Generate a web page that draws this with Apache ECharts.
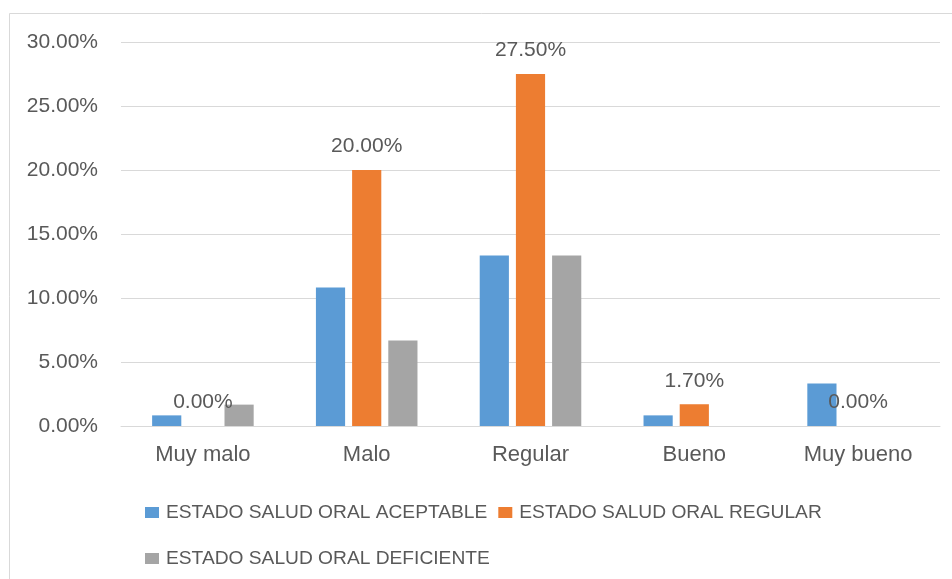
<!DOCTYPE html>
<html>
<head>
<meta charset="utf-8">
<script src="https://cdn.jsdelivr.net/npm/echarts@6/dist/echarts.min.js"></script>
<style>
  html, body { margin: 0; padding: 0; background: #ffffff; }
  #chart { width: 952px; height: 579px; }
</style>
</head>
<body>
<div id="chart"></div>
<script>
// Categories of oral-health self-rating
const categories = ['Muy malo', 'Malo', 'Regular', 'Bueno', 'Muy bueno'];

// Percentages per group
const seriesNames = [
  'ESTADO SALUD ORAL ACEPTABLE',
  'ESTADO SALUD ORAL REGULAR',
  'ESTADO SALUD ORAL DEFICIENTE'
];
const aceptable = [0.83, 10.83, 13.33, 0.83, 3.33];
const regular = [0.00, 20.00, 27.50, 1.70, 0.00];
const deficiente = [1.67, 6.67, 13.33, 0, 0];

// Y axis range and step (percent)
const yMin = 0;
const yMax = 30;
const yStep = 5;

const FONT = '"Liberation Sans", Arial, sans-serif';
const TEXT = '#595959';
const LINE = '#d9d9d9';

const chart = echarts.init(document.getElementById('chart'), null, { renderer: 'canvas' });

function bar(name, data, color, withLabel) {
  return {
    name: name,
    type: 'bar',
    data: data,
    barGap: '24%',
    barCategoryGap: '38%',
    itemStyle: { color: color },
    label: withLabel ? {
      show: true,
      position: 'top',
      distance: 13,
      color: TEXT,
      fontFamily: FONT,
      fontSize: 21,
      formatter: p => p.value.toFixed(2) + '%'
    } : { show: false },
    emphasis: { disabled: true }
  };
}

const legendText = { color: TEXT, fontFamily: FONT, fontSize: 19.2, padding: [0, 0, 0, 2] };

chart.setOption({
  animation: false,
  backgroundColor: '#ffffff',
  textStyle: { fontFamily: FONT, color: TEXT },
  graphic: [{
    type: 'rect',
    shape: { x: 9.5, y: 13.5, width: 960, height: 600 },
    style: { fill: 'none', stroke: LINE, lineWidth: 1 },
    silent: true
  }],
  grid: { left: 121, right: 12, top: 42, bottom: 153 },
  xAxis: {
    type: 'category',
    data: categories,
    axisLine: { lineStyle: { color: LINE, width: 1 } },
    axisTick: { show: false },
    axisLabel: { color: TEXT, fontFamily: FONT, fontSize: 22, margin: 18 }
  },
  yAxis: {
    type: 'value',
    min: yMin,
    max: yMax,
    interval: yStep,
    axisLine: { show: false },
    axisTick: { show: false },
    splitLine: { lineStyle: { color: LINE, width: 1 } },
    axisLabel: {
      color: TEXT, fontFamily: FONT, fontSize: 21, margin: 23,
      formatter: v => v.toFixed(2) + '%'
    }
  },
  legend: [{
    data: seriesNames.slice(0, 2),
    left: 140,
    top: 498,
    orient: 'horizontal',
    itemWidth: 14,
    itemHeight: 11,
    itemGap: 11,
    icon: 'rect',
    selectedMode: false,
    textStyle: legendText
  }, {
    data: seriesNames.slice(2),
    left: 140,
    top: 544,
    orient: 'horizontal',
    itemWidth: 14,
    itemHeight: 11,
    icon: 'rect',
    selectedMode: false,
    textStyle: legendText
  }],
  series: [
    bar(seriesNames[0], aceptable, '#5b9bd5', false),
    bar(seriesNames[1], regular, '#ed7d31', true),
    bar(seriesNames[2], deficiente, '#a5a5a5', false)
  ]
});
</script>
</body>
</html>
